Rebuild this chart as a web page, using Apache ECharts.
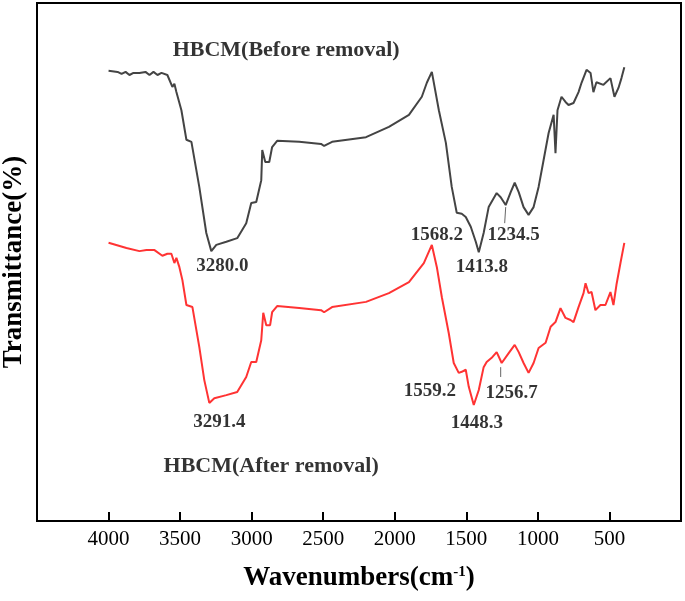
<!DOCTYPE html>
<html><head><meta charset="utf-8">
<script src="https://cdn.jsdelivr.net/npm/echarts@6/dist/echarts.min.js"></script>
<style>html,body{margin:0;padding:0;background:#fff}#c{width:685px;height:601px}</style>
</head><body><div id="c"></div>
<script>
// Wavenumbers (cm-1) and transmittance (arbitrary, 0-100 scale of plot height)
const beforeWn = [4000,3937,3909,3881,3854,3826,3784,3742,3714,3686,3658,3630,3589,3554,3540,3526,3491,3456,3421,3366,3317,3282,3247,3177,3101,3038,3003,2968,2933,2926,2905,2877,2857,2822,2668,2515,2494,2438,2201,2041,1901,1811,1776,1741,1692,1643,1602,1567,1532,1504,1469,1434,1413,1379,1344,1288,1260,1225,1190,1162,1134,1100,1065,1030,995,960,925,890,877,863,835,807,786,751,716,695,660,632,612,591,542,493,465,437,416,396];
const beforeT = [86.9,86.7,86.3,86.7,86.1,86.5,86.5,86.7,86.1,86.7,86.1,86.5,86.1,83.8,84.4,82.8,79.3,73.6,73.2,64.5,55.6,52.1,53.3,53.9,54.6,57.5,61.4,61.6,65.8,71.6,69.3,69.3,72.2,73.4,73.2,72.8,72.4,73.2,74.1,76.1,78.4,81.9,84.6,86.7,79.3,73.0,64.5,59.5,59.3,58.7,56.8,53.9,51.9,55.6,60.6,63.3,62.5,61.0,63.5,65.3,63.5,60.6,59.1,60.6,64.5,69.7,74.9,78.4,71.0,79.3,81.9,80.9,80.3,80.7,82.8,84.6,87.1,86.5,82.8,84.7,84.2,85.5,81.9,83.6,85.5,87.6];
const afterWn = [4000,3875,3784,3735,3679,3624,3589,3561,3540,3526,3505,3484,3456,3414,3366,3331,3296,3261,3177,3101,3038,3003,2968,2933,2919,2898,2871,2857,2822,2668,2515,2494,2438,2201,2041,1901,1797,1741,1706,1671,1623,1588,1553,1532,1504,1483,1448,1413,1379,1358,1323,1288,1253,1204,1162,1134,1100,1065,1030,995,946,911,877,842,807,772,751,716,681,667,646,625,598,563,528,493,472,451,423,396];
const afterT = [53.7,52.7,52.1,52.3,52.3,51.2,51.6,51.6,49.8,50.8,49.0,46.5,41.7,41.3,33.6,27.2,22.8,23.7,24.3,24.9,27.8,30.7,30.7,34.9,40.2,37.8,37.8,40.3,41.5,41.1,40.7,40.3,41.3,42.3,44.0,46.1,49.8,53.3,49.0,43.2,36.3,30.5,28.6,28.8,29.2,25.9,22.4,25.3,29.7,30.7,31.5,32.6,30.5,32.4,34.0,32.6,30.5,28.6,30.5,33.4,34.4,37.5,38.4,41.1,39.2,38.8,38.4,41.3,44.0,45.9,44.0,44.2,40.7,41.7,41.7,44.2,41.7,45.6,49.8,53.7];
const xTicks = [500,1000,1500,2000,2500,3000,3500,4000];
// peak annotations: [wavenumber, T, text]
const peakLabels = [
  [3205,49.2,'3280.0'],[3226,19.1,'3291.4'],[1706,55.2,'1568.2'],[1392,49.0,'1413.8'],
  [1169,55.2,'1234.5'],[1755,25.1,'1559.2'],[1427,18.9,'1448.3'],[1183,24.7,'1256.7']
];
const seriesTitles = [[2759,90.9,'HBCM(Before removal)'],[2864,10.6,'HBCM(After removal)']];
const pointerBefore = [[1225,60.6],[1232,57.5]];
const pointerAfter = [[1260,29.7],[1260,27.8]];

const zip = (a,b)=>a.map((v,i)=>[v,b[i]]);
const serif = 'Liberation Serif, Times New Roman, serif';
const chart = echarts.init(document.getElementById('c'));
chart.setOption({
  animation:false,
  backgroundColor:'#fff',
  grid:{left:37,right:4,top:3,bottom:80,show:true,borderColor:'#000',borderWidth:2,
    containLabel:false,outerBoundsMode:'none'},
  xAxis:{type:'value',min:0,max:4500,interval:500,inverse:true,
    axisLine:{lineStyle:{color:'#000',width:2}},
    axisTick:{inside:true,length:9,lineStyle:{color:'#000',width:2}},
    splitLine:{show:false},
    axisLabel:{color:'#000',fontSize:21,fontFamily:serif,margin:8,
      formatter:v=>xTicks.includes(v)?String(v):''},
    name:'Wavenumbers(cm{sup|-1})',nameLocation:'middle',nameGap:44,
    nameTextStyle:{color:'#000',fontSize:27,fontWeight:'bold',fontFamily:serif,
      rich:{sup:{fontSize:15,fontWeight:'bold',fontFamily:serif,verticalAlign:'top',padding:[0,0,12,0]}}}
  },
  yAxis:{type:'value',min:0,max:100,
    axisLine:{show:true,lineStyle:{color:'#000',width:2}},
    axisTick:{show:false},axisLabel:{show:false},splitLine:{show:false},
    name:'Transmittance(%)',nameLocation:'middle',nameGap:9,
    nameTextStyle:{color:'#000',fontSize:27,fontWeight:'bold',fontFamily:serif}
  },
  series:[
    {type:'line',data:zip(beforeWn,beforeT),symbol:'none',lineStyle:{color:'#444',width:2},silent:true},
    {type:'line',data:zip(afterWn,afterT),symbol:'none',lineStyle:{color:'#ff3333',width:2},silent:true},
    {type:'line',data:pointerBefore,symbol:'none',lineStyle:{color:'#666',width:1},silent:true},
    {type:'line',data:pointerAfter,symbol:'none',lineStyle:{color:'#666',width:1},silent:true},
    {type:'scatter',data:peakLabels,symbolSize:1,itemStyle:{color:'transparent'},silent:true,
      label:{show:true,position:'inside',formatter:p=>p.data[2],color:'#000',fontSize:19,fontWeight:'bold',fontFamily:serif}},
    {type:'scatter',data:seriesTitles,symbolSize:1,itemStyle:{color:'transparent'},silent:true,
      label:{show:true,position:'inside',formatter:p=>p.data[2],color:'#000',fontSize:22,fontWeight:'bold',fontFamily:serif}}
  ]
});
</script></body></html>
